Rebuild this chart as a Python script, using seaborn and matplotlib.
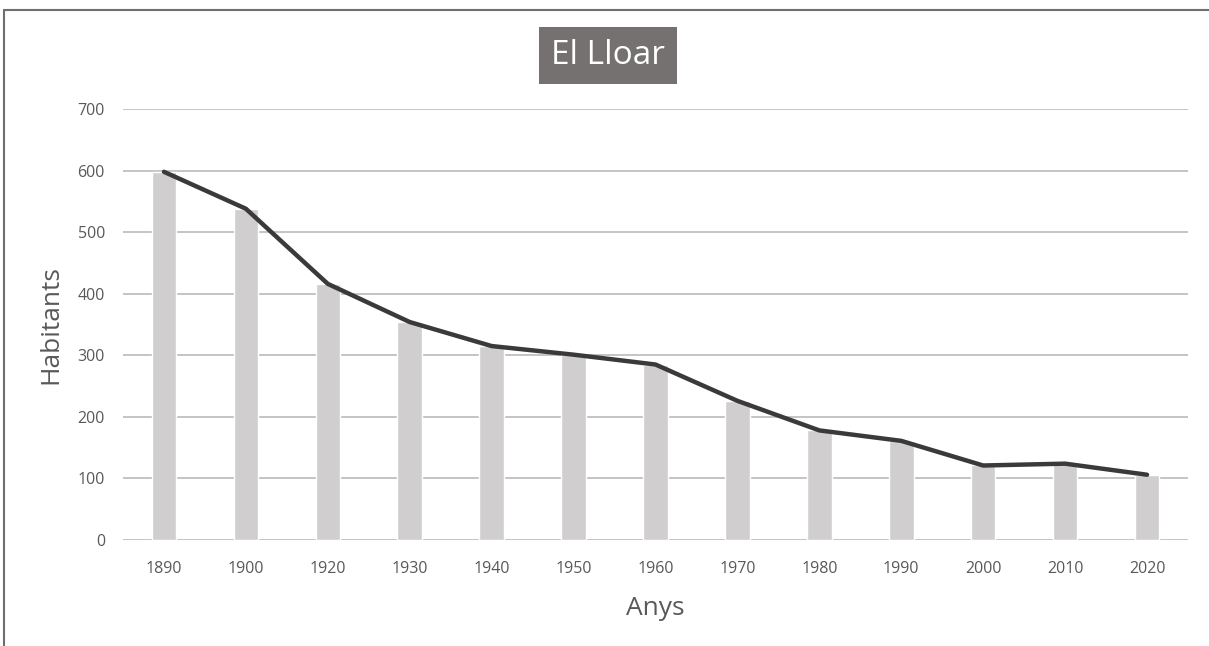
import numpy as np
import pandas as pd
import matplotlib
matplotlib.use("Agg")
import matplotlib.pyplot as plt
import seaborn as sns
from matplotlib.lines import Line2D

# data
years = ["1890", "1900", "1920", "1930", "1940", "1950", "1960",
         "1970", "1980", "1990", "2000", "2010", "2020"]
habitants = [598, 538, 416, 354, 315, 301, 285, 226, 178, 161, 121, 124, 106]
yticks = [0, 100, 200, 300, 400, 500, 600, 700]

df = pd.DataFrame({"Anys": years, "Habitants": habitants})

sns.set_style("white")
plt.rcParams["font.family"] = ["Open Sans", "DejaVu Sans"]

fig = plt.figure(figsize=(12.09, 6.46), dpi=100)
ax = fig.add_axes([123 / 1209, 1 - 540 / 646, (1188 - 123) / 1209, (540 - 109) / 646])

# bars
sns.barplot(data=df, x="Anys", y="Habitants", color="#d0cece", width=0.3,
            saturation=1, ax=ax, zorder=2)
# line on top
sns.lineplot(x=np.arange(len(years)), y=df["Habitants"], color="#3a3a3a",
             linewidth=3.2, ax=ax, zorder=3)

ax.set_xlim(-0.5, len(years) - 0.5)
ax.set_ylim(0, 700)
ax.set_yticks(yticks)
ax.set_xticks(np.arange(len(years)))
ax.set_xticklabels(years)
ax.yaxis.grid(True, color="#bfbfbf", linewidth=1.3, zorder=0)
ax.set_axisbelow(True)
for s in ax.spines.values():
    s.set_visible(False)
ax.tick_params(axis="both", length=0, labelsize=11.5, labelcolor="#595959")
ax.tick_params(axis="x", pad=15)
ax.tick_params(axis="y", pad=13)

ax.set_xlabel("Anys", fontsize=19, color="#595959", labelpad=14)
ax.set_ylabel("Habitants", fontsize=19, color="#595959", labelpad=10)

# title in a dark box
fig.text(608 / 1209, 1 - 55 / 646, "El Lloar", ha="center", va="center",
         fontsize=24, color="white",
         bbox=dict(boxstyle="square,pad=0.36", facecolor="#767171", edgecolor="none"))

# frame lines (top and left only)
fig.add_artist(Line2D([4 / 1209, 1], [1 - 10 / 646, 1 - 10 / 646],
                      transform=fig.transFigure, color="#6f6f6f", linewidth=1.5))
fig.add_artist(Line2D([4 / 1209, 4 / 1209], [0, 1 - 10 / 646],
                      transform=fig.transFigure, color="#6f6f6f", linewidth=1.5))

fig.savefig("out.png", dpi=100)
